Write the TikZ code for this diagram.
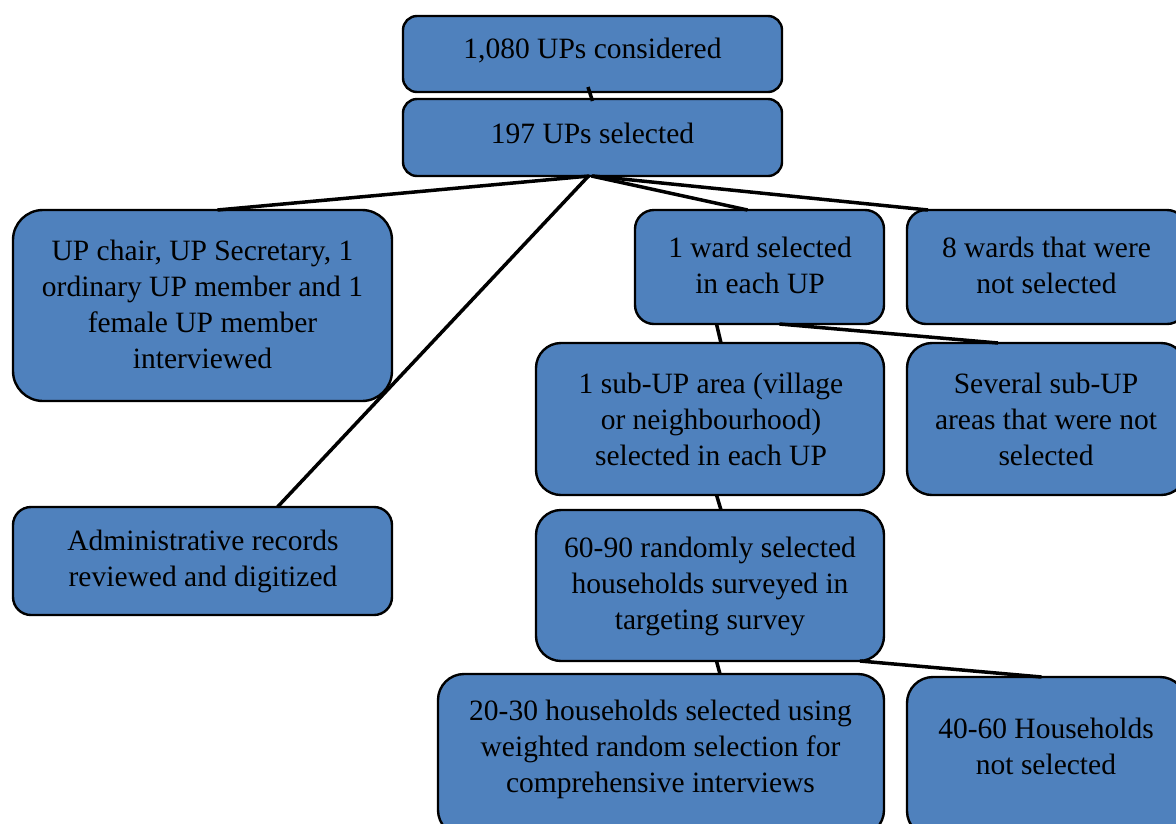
\documentclass[tikz,border=0pt]{standalone}
\usepackage{fontspec}
\setmainfont{Liberation Serif}
\usetikzlibrary{calc}
\definecolor{boxblue}{HTML}{4F81BD}
\begin{document}
\begin{tikzpicture}[x=1pt,y=-1pt,
  box/.style={draw=black, line width=2.4pt, fill=boxblue, rounded corners=#1, inner sep=0pt, outer sep=0pt},
  txt/.style={align=center, inner sep=0pt, font=\fontsize{29.5}{36}\selectfont, text=black, yshift=-2.5pt},
  link/.style={draw=black, line width=3.5pt}]
\useasboundingbox (0,0) rectangle (1176,823);

% boxes
\node[box=14pt, minimum width=379pt, minimum height=76pt] (b1) at (592.5,54) {};
\node[box=14pt, minimum width=379pt, minimum height=77pt] (b2) at (592.5,137.5) {};
\node[box=30pt, minimum width=379pt, minimum height=191pt] (b3) at (202.5,305.5) {};
\node[box=19pt, minimum width=249pt, minimum height=114pt] (b4) at (759.5,267) {};
\node[box=19pt, minimum width=279pt, minimum height=114pt] (b5) at (1046.5,267) {};
\node[box=25pt, minimum width=348pt, minimum height=152pt] (b6) at (710,419) {};
\node[box=25pt, minimum width=279pt, minimum height=152pt] (b7) at (1046.5,419) {};
\node[box=18pt, minimum width=379pt, minimum height=108pt] (b8) at (202.5,561) {};
\node[box=25pt, minimum width=348pt, minimum height=151pt] (b9) at (710,585.5) {};
\node[box=26pt, minimum width=446pt, minimum height=162pt] (b10) at (661,755) {};
\node[box=26pt, minimum width=279pt, minimum height=160pt] (b11) at (1046.5,757) {};

% connectors
\draw[link] ($(b1.south)+(-4.5,-5)$) -- ($(b2.north)+(0,2)$);
\draw[link] ($(b2.south)+(-3,0)$) -- ($(b3.north)+(15,0)$);
\draw[link] ($(b2.south)+(-4,0)$) -- ($(b8.north)+(75,0)$);
\draw[link] ($(b2.south)+(-1,0)$) -- ($(b4.north)+(-12,0)$);
\draw[link] ($(b2.south)+(0,0)$) -- ($(b5.north west)+(21,0)$);
\draw[link] ($(b4.south)+(-43,0)$) -- ($(b6.north)+(11,0)$);
\draw[link] ($(b4.south)+(20,0)$) -- ($(b7.north west)+(91,0)$);
\draw[link] ($(b6.south)+(6.5,0)$) -- ($(b9.north)+(11,0)$);
\draw[link] ($(b9.south)+(6.5,0)$) -- ($(b10.north)+(59,0)$);
\draw[link] ($(b9.south)+(150,0)$) -- ($(b11.north)+(-5,0)$);

% texts
\node[txt] (t1) at (592.5,48) {1,080 UPs considered};
\node[txt] (t2) at (592.5,131) {197 UPs selected};
\node[txt] (t3) at (202.5,302) {UP chair, UP Secretary, 1\\ordinary UP member and 1\\female UP member\\interviewed};
\node[txt] (t4) at (760,263) {1 ward selected\\in each UP};
\node[txt] (t5) at (1046.5,263) {8 wards that were\\not selected};
\node[txt] (t6) at (711,416.5) {1 sub-UP area (village\\or neighbourhood)\\selected in each UP};
\node[txt] (t7) at (1046,416.5) {Several sub-UP\\areas that were not\\selected};
\node[txt] (t8) at (203,559) {Administrative records\\reviewed and digitized};
\node[txt] (t9) at (710,583.5) {60-90 randomly selected\\households surveyed in\\targeting survey};
\node[txt] (t10) at (660.5,747) {20-30 households selected using\\weighted random selection for\\comprehensive interviews};
\node[txt] (t11) at (1046,743.5) {40-60 Households\\not selected};
\end{tikzpicture}
\end{document}
